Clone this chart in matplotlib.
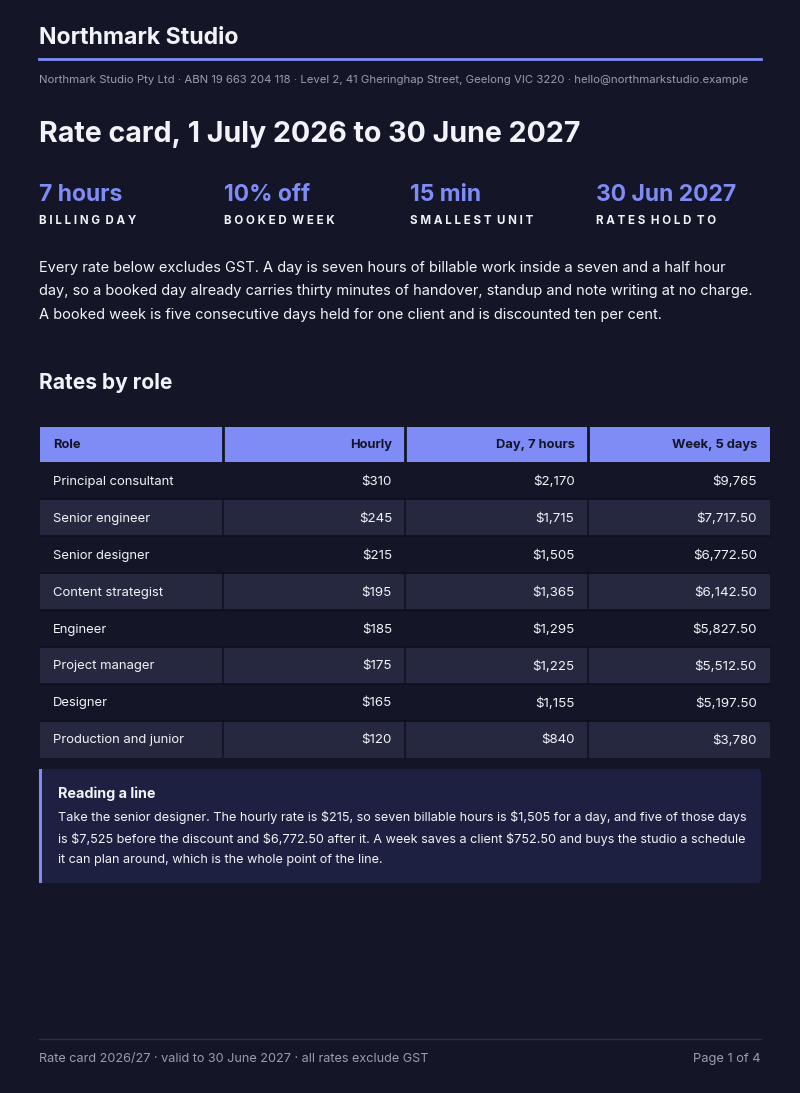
import matplotlib.pyplot as plt
from matplotlib.patches import Rectangle, FancyBboxPatch

plt.rcParams['font.family'] = ['Inter', 'DejaVu Sans']

BG = '#141627'
ACCENT = '#7f8cf6'
ALT = '#262840'
TEXT = '#f2f3f8'
MUTED = '#9a9db0'

roles = ['Principal consultant', 'Senior engineer', 'Senior designer', 'Content strategist',
         'Engineer', 'Project manager', 'Designer', 'Production and junior']
hourly = ['$310', '$245', '$215', '$195', '$185', '$175', '$165', '$120']
day = ['$2,170', '$1,715', '$1,505', '$1,365', '$1,295', '$1,225', '$1,155', '$840']
week = ['$9,765', '$7,717.50', '$6,772.50', '$6,142.50', '$5,827.50', '$5,512.50', '$5,197.50', '$3,780']
headers = ['Role', 'Hourly', 'Day, 7 hours', 'Week, 5 days']

kpi_values = ['7 hours', '10% off', '15 min', '30 Jun 2027']
kpi_labels = ['BILLING DAY', 'BOOKED WEEK', 'SMALLEST UNIT', 'RATES HOLD TO']

fig = plt.figure(figsize=(8, 10.93), dpi=100, facecolor=BG)
ax = fig.add_axes([0, 0, 1, 1])
ax.set_xlim(0, 800)
ax.set_ylim(1093, 0)
ax.axis('off')
ax.set_facecolor(BG)

# header
ax.text(39, 38, 'Northmark Studio', color=TEXT, fontsize=16.6, fontweight='bold', va='center')
ax.plot([39, 761], [59, 59], color=ACCENT, lw=2)
ax.text(39, 80, 'Northmark Studio Pty Ltd \u00b7 ABN 19 663 204 118 \u00b7 Level 2, 41 Gheringhap Street, '
        'Geelong VIC 3220 \u00b7 hello@northmarkstudio.example', color=MUTED, fontsize=8.2, va='center')
ax.text(39, 135, 'Rate card, 1 July 2026 to 30 June 2027', color=TEXT, fontsize=20.6,
        fontweight='bold', va='center')

# KPIs
for i, (v, l) in enumerate(zip(kpi_values, kpi_labels)):
    x = 39 + i * 185.5
    ax.text(x, 195, v, color=ACCENT, fontsize=16.5, fontweight='bold', va='center')
    ax.text(x, 221, ' '.join(l).replace('   ', '  '), color=TEXT, fontsize=8.3,
            fontweight='bold', va='center')

para = ('Every rate below excludes GST. A day is seven hours of billable work inside a seven and a half hour\n'
        'day, so a booked day already carries thirty minutes of handover, standup and note writing at no charge.\n'
        'A booked week is five consecutive days held for one client and is discounted ten per cent.')
ax.text(39, 261, para, color=TEXT, fontsize=10.5, va='top', linespacing=1.85)

ax.text(39, 383, 'Rates by role', color=TEXT, fontsize=15.1, fontweight='bold', va='center')

# table
col_x = [40, 222.5, 405, 587.5, 770]
ax.add_patch(Rectangle((40, 427), 730, 35, color=ACCENT, lw=0))
for cx in col_x[1:-1]:
    ax.plot([cx, cx], [427, 462], color=BG, lw=2)
for j, h in enumerate(headers):
    if j == 0:
        ax.text(col_x[0] + 13, 445, h, color='#141627', fontsize=9.3, fontweight='bold', va='center')
    else:
        ax.text(col_x[j + 1] - 13, 445, h, color='#141627', fontsize=9.3, fontweight='bold',
                va='center', ha='right')

row_h = 36.9
top = 462.5
for i, r in enumerate(roles):
    y0 = top + i * row_h
    yc = y0 + row_h / 2 + 1
    if i % 2 == 1:
        ax.add_patch(Rectangle((40, y0), 730, row_h, color=ALT, lw=0))
        for cx in col_x[1:-1]:
            ax.plot([cx, cx], [y0, y0 + row_h], color=BG, lw=1.5)
    if i > 0:
        ax.plot([40, 770], [y0, y0], color='#0d0f1c', lw=1.2)
    ax.text(col_x[0] + 13, yc, r, color=TEXT, fontsize=9.4, va='center')
    for j, val in enumerate([hourly[i], day[i], week[i]]):
        ax.text(col_x[j + 2] - 13, yc, val, color=TEXT, fontsize=9.6, va='center', ha='right',
                parse_math=False)

# callout
ax.add_patch(FancyBboxPatch((39, 769), 722, 114, boxstyle='round,pad=0,rounding_size=4',
                            color='#1d2040', lw=0))
ax.add_patch(Rectangle((39, 769), 2.5, 114, color=ACCENT, lw=0))
ax.text(58, 794, 'Reading a line', color=TEXT, fontsize=10.3, fontweight='bold', va='center')
note = ('Take the senior designer. The hourly rate is $215, so seven billable hours is $1,505 for a day, and five of those days\n'
        'is $7,525 before the discount and $6,772.50 after it. A week saves a client $752.50 and buys the studio a schedule\n'
        'it can plan around, which is the whole point of the line.')
ax.text(58, 810, note, color=TEXT, fontsize=9.1, va='top', linespacing=1.85, parse_math=False)

# footer
ax.plot([39, 761], [1039, 1039], color='#2e3145', lw=1)
ax.text(39, 1059, 'Rate card 2026/27 \u00b7 valid to 30 June 2027 \u00b7 all rates exclude GST',
        color=MUTED, fontsize=9.1, va='center')
ax.text(761, 1059, 'Page 1 of 4', color=MUTED, fontsize=9.3, va='center', ha='right')

fig.savefig('out.png', dpi=100, facecolor=BG)
